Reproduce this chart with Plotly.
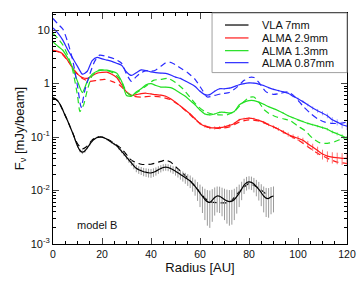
import plotly.graph_objects as go
import numpy as np

# ---------------- data (mJy/beam vs radius in AU) ----------------
VLA_R = list(range(0, 91))
VLA_F = [0.54, 0.52, 0.47, 0.40, 0.32, 0.25, 0.20, 0.155, 0.12, 0.09,
         0.068, 0.056, 0.052, 0.055, 0.063, 0.073, 0.084, 0.092, 0.098, 0.100,
         0.100, 0.096, 0.091, 0.085, 0.079, 0.074, 0.069, 0.061, 0.054, 0.048,
         0.042, 0.037, 0.033, 0.029, 0.026, 0.0245, 0.0235, 0.0225, 0.022, 0.0215,
         0.0213, 0.022, 0.023, 0.0245, 0.0258, 0.027, 0.0275, 0.027, 0.0258, 0.0245,
         0.023, 0.0215, 0.020, 0.0187, 0.0174, 0.0162, 0.0151, 0.0135, 0.012, 0.0104,
         0.0089, 0.0078, 0.0068, 0.0062, 0.006, 0.0066, 0.0074, 0.0079, 0.0078, 0.0073,
         0.0068, 0.0064, 0.0062, 0.0063, 0.0068, 0.0077, 0.0089, 0.0106, 0.0126, 0.014,
         0.0145, 0.0142, 0.0132, 0.0118, 0.0105, 0.0091, 0.0079, 0.0072, 0.0071, 0.0076,
         0.0079]
VLA_RMS = 0.004
VLA_MOD_R = [0, 2, 4, 6, 8, 10, 12, 14, 16, 18, 20, 24, 28, 32, 36, 40, 44, 46, 48, 50,
             54, 58, 62, 64, 68, 72, 76, 80, 84, 88]
VLA_MOD_F = [0.54, 0.47, 0.32, 0.2, 0.12, 0.075, 0.06, 0.068, 0.088, 0.1, 0.1, 0.082,
             0.06, 0.037, 0.031, 0.031, 0.035, 0.037, 0.034, 0.028, 0.019, 0.012,
             0.0072, 0.0062, 0.0059, 0.006, 0.0095, 0.0135, 0.011, 0.0078]

ALMA_R = list(range(0, 121, 2))
A29_F = [4.2, 4.0, 3.6, 2.7, 1.95, 1.5, 1.3, 1.25, 1.4, 1.57,
         1.62, 1.64, 1.5, 1.3, 0.95, 0.7, 0.6, 0.62, 0.65, 0.66,
         0.64, 0.62, 0.61, 0.58, 0.52, 0.45, 0.38, 0.32, 0.27, 0.22,
         0.18, 0.16, 0.15, 0.148, 0.15, 0.155, 0.165, 0.18, 0.21, 0.22,
         0.225, 0.22, 0.205, 0.19, 0.17, 0.155, 0.14, 0.125, 0.112, 0.102,
         0.095, 0.087, 0.075, 0.065, 0.056, 0.048, 0.044, 0.042, 0.041, 0.040,
         0.040]
A29_RMS = 0.01
A29_MOD_R = [0, 3, 6, 9, 12, 15, 18, 21, 24, 27, 30, 33, 36, 40, 44, 48, 52, 56, 60, 64,
             68, 72, 76, 80, 84, 88, 92, 96, 100, 104, 108, 112, 116, 120]
A29_MOD_F = [4.2, 3.8, 2.7, 1.7, 1.25, 1.1, 1.15, 1.2, 1.1, 0.95, 0.7, 0.58, 0.56, 0.58,
             0.56, 0.5, 0.38, 0.26, 0.18, 0.15, 0.145, 0.155, 0.19, 0.21, 0.2, 0.17,
             0.14, 0.11, 0.088, 0.066, 0.05, 0.04, 0.034, 0.032]

A13_F = [6.0, 5.0, 4.2, 3.0, 2.0, 1.1, 0.68, 1.1, 1.5, 1.7,
         1.78, 1.78, 1.7, 1.57, 1.1, 0.6, 0.58, 0.7, 0.8, 0.95,
         1.0, 0.92, 0.86, 0.86, 0.84, 0.76, 0.66, 0.58, 0.48, 0.4,
         0.32, 0.27, 0.26, 0.27, 0.29, 0.29, 0.28, 0.3, 0.4, 0.45,
         0.48, 0.48, 0.45, 0.41, 0.37, 0.34, 0.31, 0.28, 0.25, 0.23,
         0.21, 0.195, 0.18, 0.17, 0.16, 0.15, 0.14, 0.125, 0.115, 0.105,
         0.095]
A13_RMS = 0.008
A13_MOD_R = [0, 2, 4, 6, 8, 10, 11, 12.5, 14, 16, 19, 22, 25, 28, 30, 32, 35, 38, 41, 44,
             47, 50, 53, 56, 59, 62, 65, 68, 71, 74, 77, 80, 82, 84, 86, 88, 91, 94, 97,
             100, 103, 106, 109, 112, 115, 118, 120]
A13_MOD_F = [8.7, 7, 5.3, 3.4, 1.8, 0.6, 0.3, 0.4, 0.75, 1.4, 1.8, 1.75, 1.55, 1.1, 0.7,
             0.6, 0.72, 0.9, 1.15, 1.2, 1.25, 1.05, 0.8, 0.55, 0.38, 0.3, 0.27, 0.26,
             0.26, 0.3, 0.42, 0.55, 0.56, 0.45, 0.33, 0.28, 0.24, 0.22, 0.2, 0.16, 0.13,
             0.095, 0.078, 0.076, 0.082, 0.093, 0.1]

A087_F = [11, 8.8, 6.5, 4.3, 3.0, 2.1, 1.5, 1.7, 2.7, 3.1,
          2.9, 2.75, 2.6, 2.4, 2.2, 1.65, 1.42, 1.6, 1.8, 1.75,
          1.65, 1.6, 1.57, 1.55, 1.45, 1.32, 1.25, 1.12, 1.0, 0.88,
          0.72, 0.62, 0.62, 0.72, 0.8, 0.8, 0.82, 0.88, 0.95, 1.0,
          1.03, 1.02, 0.98, 0.92, 0.84, 0.78, 0.74, 0.70, 0.66, 0.58,
          0.52, 0.46, 0.40, 0.35, 0.31, 0.28, 0.25, 0.21, 0.19, 0.17,
          0.16]
A087_RMS = 0.025
A087_MOD_R = [0, 2, 4, 6, 8, 10, 11.5, 13, 15, 17, 19, 22, 25, 28, 30, 32, 34, 36, 38, 40,
              42, 44, 46, 48, 50, 52, 55, 58, 61, 63, 66, 69, 72, 75, 78, 80, 82, 84, 87,
              90, 93, 96, 99, 102, 105, 108, 111, 114, 117, 120]
A087_MOD_F = [16.5, 13, 10.5, 6, 2.8, 0.9, 0.36, 0.75, 1.5, 2.6, 3.4, 3.2, 2.9, 2.4, 1.5,
              1.1, 1.35, 1.6, 1.75, 1.7, 1.8, 2.1, 2.45, 2.5, 2.25, 1.95, 1.6, 1.2, 0.75,
              0.56, 0.6, 0.65, 0.68, 0.85, 1.15, 1.3, 1.3, 1.05, 0.7, 0.63, 0.66, 0.70,
              0.55, 0.38, 0.28, 0.22, 0.19, 0.18, 0.18, 0.19]

SERIES_NAMES = ["VLA 7mm", "ALMA 2.9mm", "ALMA 1.3mm", "ALMA 0.87mm"]
X_TICKS = [0, 20, 40, 60, 80, 100, 120]
Y_TICKS = [1e-3, 1e-2, 1e-1, 1, 10]
Y_TICKTEXT = ["10<sup>-3</sup>", "10<sup>-2</sup>", "10<sup>-1</sup>", "1", "10"]

# ---------------- figure ----------------
FONT = "Liberation Sans"
COLORS = ["#000000", "#ff1a1a", "#22e022", "#2a2aff"]
ERR_COLORS = ["#9a9a9a", "rgba(255,90,90,0.85)", "rgba(80,230,80,0.7)", "rgba(120,120,255,0.7)"]
series = [
    (VLA_R, VLA_F, VLA_RMS, VLA_MOD_R, VLA_MOD_F),
    (ALMA_R, A29_F, A29_RMS, A29_MOD_R, A29_MOD_F),
    (ALMA_R, A13_F, A13_RMS, A13_MOD_R, A13_MOD_F),
    (ALMA_R, A087_F, A087_RMS, A087_MOD_R, A087_MOD_F),
]

fig = go.Figure()
for name, col, ecol, (r, f, rms, mr, mf) in zip(SERIES_NAMES, COLORS, ERR_COLORS, series):
    fig.add_trace(go.Scatter(
        x=mr, y=mf, mode="lines", showlegend=False, hoverinfo="skip",
        line=dict(color=col, width=1.2, dash="6px,4px", shape="spline", smoothing=0.6)))
    fig.add_trace(go.Scatter(
        x=r, y=f, mode="lines", name=name, showlegend=False,
        line=dict(color=col, width=1.2, shape="spline", smoothing=0.6),
        error_y=dict(type="constant", value=rms, color=ecol, thickness=1, width=0)))

# legend drawn as a boxed key in the upper-right corner of the plot area
shapes = [dict(type="rect", xref="paper", yref="paper", x0=0.541, x1=1.0, y0=0.742, y1=1.0,
               line=dict(color="#a0a0a0", width=1), fillcolor="white", layer="above")]
annotations = []
row_y = [0.948, 0.892, 0.837, 0.785]
for name, col, yy in zip(SERIES_NAMES, COLORS, row_y):
    shapes.append(dict(type="line", xref="paper", yref="paper", x0=0.585, x1=0.665,
                       y0=yy, y1=yy, line=dict(color=col, width=1.2), layer="above"))
    annotations.append(dict(x=0.704, y=yy, xref="paper", yref="paper", text=name,
                            showarrow=False, xanchor="left", yanchor="middle",
                            font=dict(size=11)))
annotations.append(dict(x=9, y=np.log10(0.0023), xref="x", yref="y", text="model B",
                        showarrow=False, xanchor="left", font=dict(size=11)))

minor_y = [m * 10.0 ** e for e in range(-3, 2) for m in range(2, 10)]

fig.update_layout(
    width=357, height=281,
    margin=dict(l=53, r=10, t=13, b=37),
    paper_bgcolor="white", plot_bgcolor="white",
    font=dict(family=FONT, size=11, color="#111"),
    showlegend=False,
    shapes=shapes, annotations=annotations,
    xaxis=dict(range=[0, 120], tickvals=X_TICKS, ticks="inside", ticklen=6,
               tickfont=dict(size=10.5),
               showline=True, linecolor="black", linewidth=1, mirror="ticks",
               showgrid=False, zeroline=False, automargin=False,
               minor=dict(dtick=5, ticks="inside", ticklen=3, tickcolor="black"),
               title=dict(text="Radius [AU]", standoff=4)),
    yaxis=dict(type="log", range=[-3, 1.32], tickvals=Y_TICKS, ticktext=Y_TICKTEXT,
               ticks="inside", ticklen=6, showline=True, linecolor="black", linewidth=1,
               mirror="ticks", showgrid=False, zeroline=False, automargin=False,
               minor=dict(tickvals=minor_y, ticks="inside", ticklen=3, tickcolor="black"),
               title=dict(text="F<sub>ν</sub> [mJy/beam]", standoff=3)),
)

# remove the default page margin so the 357x281 figure fills the window exactly
fig.write_html("out.html",
               config={"displayModeBar": False},
               post_script="document.body.style.margin='0';"
                           "document.body.style.overflow='hidden';")
